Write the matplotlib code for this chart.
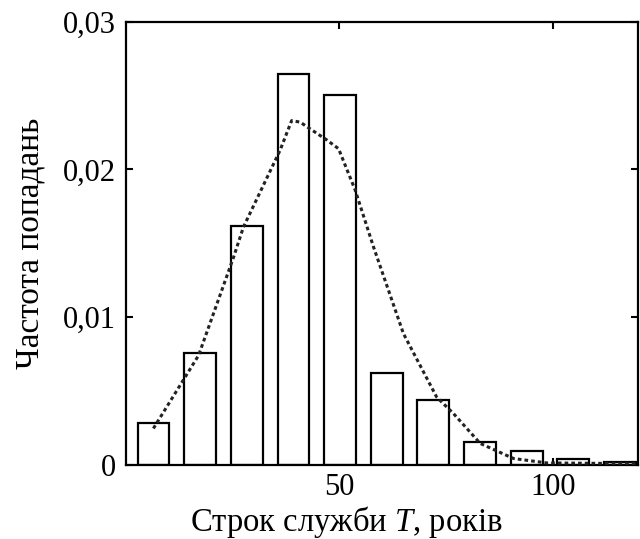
import matplotlib
matplotlib.use("Agg")
import matplotlib.pyplot as plt


# ============================================================
# ДАНІ
# ============================================================

# центри інтервалів гістограми, роки
bin_centers = [6.4, 17.3, 28.3, 39.2, 50.2, 61.1, 72.0, 83.0, 93.9, 104.8, 115.8]
# частота попадань
bin_freq = [0.00282, 0.00761, 0.01617, 0.02647, 0.02505, 0.00626,
            0.00444, 0.00157, 0.00097, 0.00040, 0.00018]

# згладжена крива (пунктир)
curve_t = [6.4, 17.0, 25.2, 27.5, 36.1, 38.8, 40.8, 43.1, 47.0, 49.8,
           53.7, 58.0, 65.0, 72.8, 76.7, 83.0, 90.8, 98.6, 119.7]
curve_f = [0.00248, 0.00743, 0.01407, 0.0161, 0.0213, 0.0233, 0.0232,
           0.02275, 0.0220, 0.0214, 0.0186, 0.01475, 0.0089, 0.0046,
           0.0035, 0.00147, 0.00045, 0.00015, 0.0001]

x_ticks = [50, 100]
y_ticks = [0, 0.01, 0.02, 0.03]
y_tick_labels = ["0", "0,01", "0,02", "0,03"]


# ============================================================
# ГРАФІК
# ============================================================

plt.rcParams["font.family"] = ["Liberation Serif", "DejaVu Serif"]
plt.rcParams["mathtext.fontset"] = "custom"
plt.rcParams["mathtext.it"] = "Liberation Serif:italic"
plt.rcParams["mathtext.rm"] = "Liberation Serif"

fig = plt.figure(figsize=(6.4, 5.39), dpi=100)
ax = fig.add_axes([0.197, 0.137, 0.800, 0.823])

ax.bar(bin_centers, bin_freq, width=7.4, facecolor="white",
       edgecolor="black", linewidth=1.6, zorder=2)

ax.plot(curve_t, curve_f, color="#222222", linewidth=2.2,
        linestyle=(0, (1.2, 1.0)), zorder=3)

ax.set_xlim(0, 120)
ax.set_ylim(0, 0.03)

ax.set_xticks(x_ticks)
ax.set_yticks(y_ticks)
ax.set_yticklabels(y_tick_labels)

ax.tick_params(direction="in", length=5, width=1.5, labelsize=22,
               top=True, right=True)
ax.tick_params(axis="x", pad=6)
ax.tick_params(axis="y", pad=7)

for sp in ax.spines.values():
    sp.set_linewidth(1.6)

ax.set_xlabel("Строк служби $T$, років", fontsize=23.5)
ax.xaxis.set_label_coords(0.43, -0.087, transform=ax.transAxes)
ax.xaxis.label.set_verticalalignment("top")
ax.set_ylabel("Частота попадань", fontsize=24, labelpad=13)

fig.savefig("out.png", dpi=100)
